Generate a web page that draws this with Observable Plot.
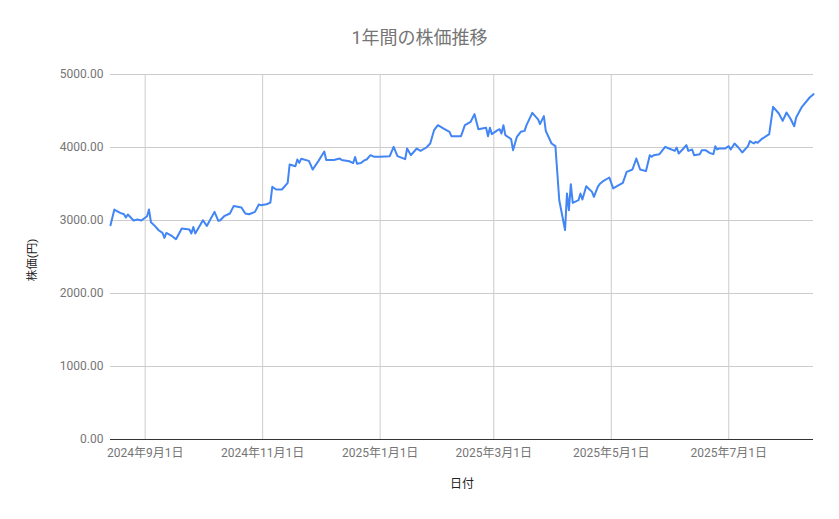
<!DOCTYPE html>
<html>
<head>
<meta charset="utf-8">
<script src="https://cdn.jsdelivr.net/npm/d3@7"></script>
<script src="https://cdn.jsdelivr.net/npm/@observablehq/plot@0.6"></script>
<style>
  body { margin: 0; background: #fff; font-family: Roboto, "Noto Sans CJK JP", sans-serif; }
  #title { height: 60px; box-sizing: border-box; padding-top: 27px; line-height: 22px; text-align: center; font-size: 18px; color: #757575; width: 839px; }
</style>
</head>
<body>
<div id="title">1年間の株価推移</div>
<div id="chart"></div>
<script>
const dates = [
"2024-08-14","2024-08-16","2024-08-19","2024-08-21","2024-08-22","2024-08-23","2024-08-26","2024-08-28","2024-08-30",
"2024-09-02","2024-09-03","2024-09-04","2024-09-06","2024-09-08","2024-09-10","2024-09-11","2024-09-12","2024-09-15","2024-09-17","2024-09-20","2024-09-24","2024-09-25","2024-09-26","2024-09-27",
"2024-10-01","2024-10-03","2024-10-07","2024-10-09","2024-10-10","2024-10-12","2024-10-15","2024-10-17","2024-10-21","2024-10-23","2024-10-25","2024-10-28","2024-10-30","2024-10-31",
"2024-11-03","2024-11-05","2024-11-06","2024-11-08","2024-11-11","2024-11-14","2024-11-15","2024-11-18","2024-11-19","2024-11-20","2024-11-21","2024-11-25","2024-11-27","2024-11-30",
"2024-12-03","2024-12-04","2024-12-08","2024-12-11","2024-12-12","2024-12-16","2024-12-18","2024-12-19","2024-12-20","2024-12-22","2024-12-24","2024-12-25","2024-12-27","2024-12-29",
"2025-01-01","2025-01-06","2025-01-08","2025-01-10","2025-01-14","2025-01-15","2025-01-17","2025-01-20","2025-01-22","2025-01-25","2025-01-27","2025-01-29","2025-01-31",
"2025-02-03","2025-02-06","2025-02-07","2025-02-12","2025-02-14","2025-02-17","2025-02-19","2025-02-21","2025-02-25","2025-02-26","2025-02-27","2025-02-28",
"2025-03-03","2025-03-04","2025-03-05","2025-03-06","2025-03-07","2025-03-10","2025-03-11","2025-03-13","2025-03-15","2025-03-17","2025-03-18","2025-03-21","2025-03-24","2025-03-25","2025-03-27","2025-03-28","2025-03-31",
"2025-04-02","2025-04-04","2025-04-07","2025-04-08","2025-04-09","2025-04-10","2025-04-11","2025-04-14","2025-04-15","2025-04-16","2025-04-18","2025-04-21","2025-04-22","2025-04-24","2025-04-25","2025-04-27","2025-04-30",
"2025-05-02","2025-05-04","2025-05-07","2025-05-09","2025-05-12","2025-05-14","2025-05-16","2025-05-19","2025-05-21","2025-05-22","2025-05-23","2025-05-26","2025-05-29","2025-05-31",
"2025-06-03","2025-06-04","2025-06-05","2025-06-07","2025-06-09","2025-06-10","2025-06-12","2025-06-13","2025-06-16","2025-06-17","2025-06-19","2025-06-21","2025-06-23","2025-06-24","2025-06-25","2025-06-26","2025-06-29",
"2025-07-01","2025-07-02","2025-07-04","2025-07-06","2025-07-08","2025-07-11","2025-07-12","2025-07-14","2025-07-15","2025-07-16","2025-07-18","2025-07-22","2025-07-24","2025-07-27","2025-07-29","2025-07-31",
"2025-08-02","2025-08-04","2025-08-05","2025-08-08","2025-08-12","2025-08-14"
];
const prices = [
2936,3150,3104,3086,3041,3082,3000,3014,3000,
3059,3150,2977,2926,2867,2830,2762,2830,2785,2744,2890,2877,2822,2912,2822,
3004,2926,3118,2995,3004,3059,3096,3200,3178,3096,3086,3118,3219,3210,
3223,3246,3461,3425,3425,3516,3767,3744,3836,3790,3845,3817,3699,3817,
3945,3830,3830,3849,3830,3812,3787,3870,3778,3788,3827,3836,3895,3872,
3872,3881,4009,3881,3840,3986,3895,3986,3954,4000,4055,4237,4306,
4260,4215,4155,4155,4306,4352,4457,4251,4270,4155,4270,4183,
4237,4251,4192,4306,4169,4114,3963,4146,4215,4228,4306,4475,4384,4320,4430,4228,4055,
4018,3278,2868,3370,3142,3498,3242,3278,3370,3288,3470,3392,3324,3461,3500,3544,3589,
3439,3470,3516,3667,3699,3849,3699,3676,3895,3872,3895,3909,4009,3986,
3954,4000,3918,3973,4032,3954,3973,3895,3909,3963,3963,3927,3909,4018,3973,3986,3986,
4018,3973,4055,4000,3932,4018,4087,4055,4078,4064,4114,4183,4557,4466,4365,4480,
4398,4292,4411,4557,4685,4731
];
const xTickDates = ["2024-09-01","2024-11-01","2025-01-01","2025-03-01","2025-05-01","2025-07-01"];
const yTickValues = [0,1000,2000,3000,4000,5000];
const xDomain = ["2024-08-14","2025-08-14"];
const yLabel = "株価(円)";
const xLabel = "日付";

const data = dates.map((d, i) => ({date: new Date(d), price: prices[i]}));
const xTicks = xTickDates.map(d => new Date(d));
const fmtDate = d => `${d.getUTCFullYear()}年${d.getUTCMonth() + 1}月${d.getUTCDate()}日`;
const font = 'Roboto, "Noto Sans CJK JP", sans-serif';

const chart = Plot.plot({
  width: 839,
  height: 459,
  marginTop: 14,
  marginBottom: 80,
  marginLeft: 110,
  marginRight: 26,
  style: {fontFamily: font, fontSize: "12px", color: "#757575", background: "#fff", overflow: "visible"},
  x: {type: "utc", domain: xDomain.map(d => new Date(d))},
  y: {domain: [0, 5000]},
  marks: [
    Plot.gridY(yTickValues, {stroke: "#cccccc", strokeOpacity: 1, strokeWidth: 1}),
    Plot.gridX(xTicks, {stroke: "#cccccc", strokeOpacity: 1, strokeWidth: 1}),
    Plot.axisY(yTickValues, {tickSize: 0, tickPadding: 7, tickFormat: d => d.toFixed(2), label: null, fill: "#757575"}),
    Plot.axisX(xTicks, {tickSize: 0, tickPadding: 9, tickFormat: fmtDate, label: null, fill: "#757575"}),
    Plot.ruleY([0], {stroke: "#333333", strokeWidth: 1}),
    Plot.lineY(data, {x: "date", y: "price", stroke: "#4285f4", strokeWidth: 2, strokeLinejoin: "round"})
  ]
});
document.getElementById("chart").appendChild(chart);

const svg = d3.select(chart);
svg.append("text")
  .attr("transform", "translate(33,200) rotate(-90)")
  .attr("text-anchor", "middle")
  .attr("dominant-baseline", "middle")
  .attr("font-family", font)
  .attr("font-size", 11.5)
  .attr("fill", "#222222")
  .text(yLabel);
svg.append("text")
  .attr("x", 462)
  .attr("y", 425)
  .attr("text-anchor", "middle")
  .attr("dominant-baseline", "middle")
  .attr("font-family", font)
  .attr("font-size", 12)
  .attr("fill", "#222222")
  .text(xLabel);
</script>
</body>
</html>
